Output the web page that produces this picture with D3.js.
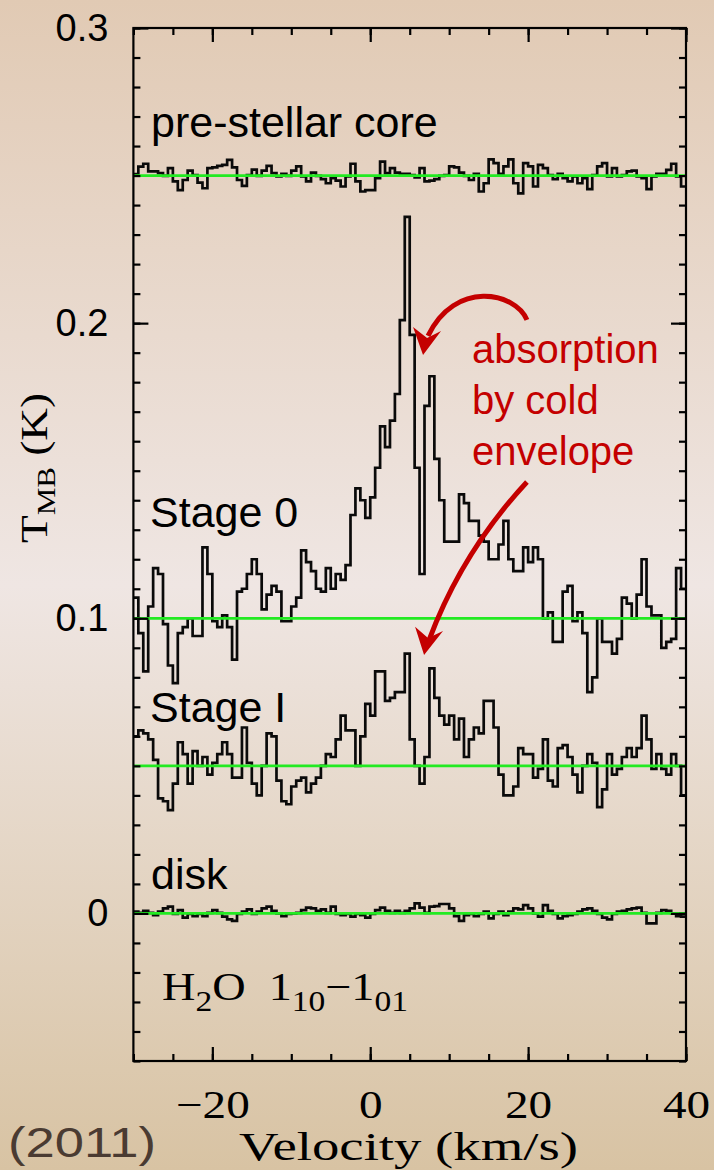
<!DOCTYPE html>
<html>
<head>
<meta charset="utf-8">
<script src="https://cdn.jsdelivr.net/npm/d3@7"></script>
<style>
  html, body { margin: 0; padding: 0; }
  body { width: 714px; height: 1170px; overflow: hidden; }
  svg { display: block; }
</style>
</head>
<body>
<svg id="chart"></svg>
<script>
// H2O 1_10-1_01 spectra, step plot on a regular channel grid (km/s)
const channelStart = -30;
const channelWidth = 0.625;

const seriesNames = ["pre-stellar core", "Stage 0", "Stage I", "disk"];
const baselines = [0.25, 0.1, 0.05, 0];

const prestellar = [
  0.2505, 0.2530, 0.2540, 0.2514, 0.2514, 0.2508, 0.2499, 0.2525, 0.2480, 0.2451,
  0.2485, 0.2517, 0.2502, 0.2476, 0.2457, 0.2525, 0.2528, 0.2533, 0.2536, 0.2553,
  0.2528, 0.2485, 0.2465, 0.2502, 0.2520, 0.2499, 0.2517, 0.2533, 0.2508, 0.2497,
  0.2506, 0.2499, 0.2517, 0.2531, 0.2497, 0.2480, 0.2510, 0.2499, 0.2488, 0.2474,
  0.2491, 0.2483, 0.2463, 0.2497, 0.2540, 0.2480, 0.2446, 0.2451, 0.2451, 0.2491,
  0.2547, 0.2508, 0.2525, 0.2510, 0.2506, 0.2506, 0.2502, 0.2494, 0.2525, 0.2480,
  0.2483, 0.2488, 0.2499, 0.2502, 0.2531, 0.2528, 0.2510, 0.2499, 0.2485, 0.2506,
  0.2446, 0.2474, 0.2555, 0.2542, 0.2506, 0.2531, 0.2555, 0.2474, 0.2440, 0.2542,
  0.2531, 0.2463, 0.2536, 0.2525, 0.2502, 0.2488, 0.2506, 0.2491, 0.2480, 0.2497,
  0.2474, 0.2491, 0.2454, 0.2502, 0.2531, 0.2542, 0.2497, 0.2525, 0.2497, 0.2502,
  0.2514, 0.2517, 0.2497, 0.2491, 0.2454, 0.2497, 0.2506, 0.2506, 0.2519, 0.2540,
  0.2497, 0.2463
];

const stage0 = [
  0.107, 0.095, 0.082, 0.104, 0.117, 0.115, 0.098, 0.084, 0.078, 0.095,
  0.097, 0.100, 0.094, 0.094, 0.124, 0.115, 0.099, 0.097, 0.101, 0.097,
  0.086, 0.109, 0.110, 0.115, 0.120, 0.115, 0.103, 0.108, 0.111, 0.109,
  0.099, 0.099, 0.104, 0.107, 0.123, 0.119, 0.116, 0.110, 0.109, 0.117,
  0.110, 0.115, 0.113, 0.118, 0.135, 0.144, 0.140, 0.134, 0.141, 0.151,
  0.165, 0.158, 0.167, 0.176, 0.201, 0.236, 0.196, 0.151, 0.115, 0.172,
  0.182, 0.154, 0.140, 0.126, 0.126, 0.126, 0.142, 0.139, 0.133, 0.133,
  0.128, 0.126, 0.120, 0.120, 0.125, 0.133, 0.120, 0.116, 0.116, 0.124,
  0.119, 0.124, 0.120, 0.100, 0.102, 0.092, 0.092, 0.109, 0.111, 0.099,
  0.102, 0.095, 0.075, 0.080, 0.100, 0.092, 0.092, 0.088, 0.093, 0.107,
  0.105, 0.100, 0.108, 0.120, 0.104, 0.101, 0.101, 0.090, 0.092, 0.093,
  0.117, 0.110
];

const stage1 = [
  0.060, 0.062, 0.061, 0.059, 0.052, 0.039, 0.038, 0.035, 0.044, 0.058,
  0.054, 0.044, 0.055, 0.050, 0.053, 0.047, 0.051, 0.054, 0.058, 0.054,
  0.046, 0.046, 0.063, 0.051, 0.044, 0.040, 0.050, 0.061, 0.060, 0.045,
  0.038, 0.037, 0.043, 0.045, 0.046, 0.041, 0.044, 0.046, 0.050, 0.054,
  0.053, 0.059, 0.067, 0.062, 0.062, 0.050, 0.060, 0.071, 0.067, 0.082,
  0.082, 0.072, 0.073, 0.075, 0.075, 0.088, 0.059, 0.050, 0.044, 0.053,
  0.083, 0.073, 0.067, 0.064, 0.067, 0.059, 0.066, 0.053, 0.059, 0.063,
  0.061, 0.072, 0.072, 0.063, 0.047, 0.040, 0.040, 0.043, 0.056, 0.054,
  0.054, 0.046, 0.049, 0.059, 0.045, 0.043, 0.056, 0.057, 0.053, 0.047,
  0.041, 0.050, 0.054, 0.051, 0.036, 0.042, 0.054, 0.047, 0.049, 0.053,
  0.056, 0.053, 0.056, 0.067, 0.059, 0.049, 0.054, 0.049, 0.047, 0.054,
  0.050, 0.040
];

const disk = [
  0.0006, 0.0002, 0.0009, 0.0002, -0.0006, 0.0006, 0.0017, 0.0023, -0.0002, 0.0011,
  -0.0014, -0.0002, -0.0009, -0.0002, -0.0009, 0.0002, 0.0011, 0.0002, -0.0011, -0.0020,
  -0.0025, -0.0002, 0.0006, 0.0014, -0.0002, 0.0006, 0.0017, 0.0023, 0.0009, 0.0000,
  -0.0009, -0.0002, 0.0000, 0.0002, 0.0011, 0.0020, 0.0017, 0.0009, 0.0014, 0.0002,
  0.0023, -0.0002, -0.0006, -0.0002, -0.0011, -0.0002, -0.0006, -0.0014, -0.0002, 0.0011,
  0.0020, 0.0009, 0.0002, 0.0009, 0.0002, 0.0009, 0.0017, 0.0034, 0.0020, 0.0002,
  0.0023, 0.0025, 0.0032, 0.0032, 0.0017, -0.0009, -0.0025, -0.0006, -0.0002, -0.0009,
  -0.0002, 0.0006, -0.0017, -0.0002, 0.0006, -0.0006, 0.0006, 0.0017, 0.0014, 0.0028,
  0.0017, 0.0000, -0.0011, 0.0028, 0.0009, -0.0002, -0.0017, -0.0009, -0.0006, -0.0002,
  0.0006, 0.0014, 0.0017, 0.0009, -0.0002, -0.0014, -0.0020, -0.0002, 0.0006, 0.0009,
  0.0014, 0.0017, 0.0020, 0.0002, -0.0034, -0.0034, 0.0002, 0.0011, 0.0009, 0.0000,
  -0.0009, -0.0011
];

// axis ticks
const xMajorTicks = [-20, 0, 20, 40];
const yMajorTicks = [0, 0.1, 0.2, 0.3];
const yTickLabels = ["0", "0.1", "0.2", "0.3"];

// annotation arrows, in data units (velocity, T)
const arrow1Curve = [[19.85, 0.2011], [18.34, 0.2106], [10.74, 0.2147], [7.32, 0.1957]];
const arrow1Head = [[6.69, 0.1892], [5.42, 0.1987], [7.20, 0.1950], [8.97, 0.1973]];
const arrow2Curve = [[19.85, 0.1462], [11.6, 0.1224], [7.45, 0.0926]];
const arrow2Head = [[6.82, 0.0876], [5.68, 0.0971], [7.32, 0.0933], [9.22, 0.0957]];
const annotationLines = ["absorption", "by cold", "envelope"];

const W = 714, H = 1170;
const svg = d3.select("#chart").attr("width", W).attr("height", H);

// background gradient
const defs = svg.append("defs");
const grad = defs.append("linearGradient").attr("id", "bg")
  .attr("x1", 0).attr("y1", 0).attr("x2", 0).attr("y2", 1);
grad.append("stop").attr("offset", "0%").attr("stop-color", "#e1cab4");
grad.append("stop").attr("offset", "50%").attr("stop-color", "#efe6e3");
grad.append("stop").attr("offset", "100%").attr("stop-color", "#d8c3a3");
svg.append("rect").attr("width", W).attr("height", H).attr("fill", "url(#bg)");

const x = d3.scaleLinear().domain([-30, 40]).range([133.4, 686]);
const y = d3.scaleLinear().domain([-0.05, 0.3]).range([1061, 28]);

const serif = "'Liberation Serif', 'DejaVu Serif', serif";
const sans = "'Liberation Sans', Arial, sans-serif";

// spectra as histograms
function stepPoints(values) {
  const pts = values.map((v, i) => [channelStart + i * channelWidth, v]);
  pts.push([channelStart + values.length * channelWidth, values[values.length - 1]]);
  return pts;
}
const stepLine = d3.line()
  .x(d => x(d[0]))
  .y(d => y(d[1]))
  .curve(d3.curveStepAfter);

const spectra = [prestellar, stage0, stage1, disk];
svg.append("g").selectAll("path")
  .data(spectra)
  .join("path")
  .attr("d", d => stepLine(stepPoints(d)))
  .attr("fill", "none")
  .attr("stroke", "#0a0a0a")
  .attr("stroke-width", 2.7)
  .attr("stroke-linejoin", "miter");

// green baselines
svg.append("g").selectAll("line")
  .data(baselines)
  .join("line")
  .attr("x1", x(-30)).attr("x2", x(40))
  .attr("y1", d => y(d)).attr("y2", d => y(d))
  .attr("stroke", "#22ea22")
  .attr("stroke-width", 2.8);

// frame
svg.append("rect")
  .attr("x", x(-30)).attr("y", y(0.3))
  .attr("width", x(40) - x(-30)).attr("height", y(-0.05) - y(0.3))
  .attr("fill", "none").attr("stroke", "#000").attr("stroke-width", 2.2);

// ticks (inside, all four sides)
const xMinor = d3.range(-30, 40.01, 5);
const yMinor = d3.range(-0.05, 0.3001, 0.01);

function styleAxis(g) {
  g.select(".domain").remove();
  g.selectAll("line").attr("stroke", "#000").attr("stroke-width", 2.2);
}

svg.append("g").attr("transform", `translate(0,${y(-0.05)})`)
  .call(d3.axisBottom(x).tickValues(xMinor).tickSize(-7).tickFormat(""))
  .call(styleAxis);
svg.append("g").attr("transform", `translate(0,${y(0.3)})`)
  .call(d3.axisTop(x).tickValues(xMinor).tickSize(-7).tickFormat(""))
  .call(styleAxis);
svg.append("g").attr("transform", `translate(${x(-30)},0)`)
  .call(d3.axisLeft(y).tickValues(yMinor).tickSize(-7).tickFormat(""))
  .call(styleAxis);
svg.append("g").attr("transform", `translate(${x(40)},0)`)
  .call(d3.axisRight(y).tickValues(yMinor).tickSize(-7).tickFormat(""))
  .call(styleAxis);

// major ticks with labels
const xAxis = svg.append("g").attr("transform", `translate(0,${y(-0.05)})`)
  .call(d3.axisBottom(x).tickValues(xMajorTicks).tickSize(-14).tickPadding(29))
  .call(styleAxis);
xAxis.selectAll("text")
  .attr("font-family", serif).attr("font-size", 40).attr("fill", "#000")
  .attr("transform", "scale(1.18,1)");

svg.append("g").attr("transform", `translate(0,${y(0.3)})`)
  .call(d3.axisTop(x).tickValues(xMajorTicks).tickSize(-14).tickFormat(""))
  .call(styleAxis);

const yAxis = svg.append("g").attr("transform", `translate(${x(-30)},0)`)
  .call(d3.axisLeft(y).tickValues(yMajorTicks).tickSize(-15).tickPadding(25)
    .tickFormat((d, i) => yTickLabels[i]))
  .call(styleAxis);
yAxis.selectAll("text")
  .attr("font-family", sans).attr("font-size", 38).attr("fill", "#000");

svg.append("g").attr("transform", `translate(${x(40)},0)`)
  .call(d3.axisRight(y).tickValues(yMajorTicks).tickSize(-15).tickFormat(""))
  .call(styleAxis);

// axis titles
svg.append("text")
  .attr("x", 408.5).attr("y", 1160)
  .attr("text-anchor", "middle")
  .attr("font-family", serif).attr("font-size", 40)
  .attr("textLength", 339).attr("lengthAdjust", "spacingAndGlyphs")
  .text("Velocity (km/s)");

const yTitle = svg.append("text")
  .attr("transform", "translate(47,468) rotate(-90)")
  .attr("text-anchor", "middle")
  .attr("font-family", serif).attr("font-size", 38)
  .attr("textLength", 150).attr("lengthAdjust", "spacingAndGlyphs");
yTitle.append("tspan").text("T");
yTitle.append("tspan").attr("font-size", 26).attr("dy", 8).text("MB");
yTitle.append("tspan").attr("dy", -8).text(" (K)");

// transition label
const lineLabel = svg.append("text")
  .attr("x", 162).attr("y", 1000)
  .attr("font-family", serif).attr("font-size", 40)
  .attr("textLength", 246).attr("lengthAdjust", "spacingAndGlyphs");
lineLabel.append("tspan").text("H");
lineLabel.append("tspan").attr("font-size", 29).attr("dy", 11).text("2");
lineLabel.append("tspan").attr("dy", -11).text("O\u00a0\u00a01");
lineLabel.append("tspan").attr("font-size", 29).attr("dy", 11).text("10");
lineLabel.append("tspan").attr("dy", -11).text("\u22121");
lineLabel.append("tspan").attr("font-size", 29).attr("dy", 11).text("01");

// series labels
const labelPos = [[151, 137], [150, 527], [150, 722], [151, 889]];
svg.append("g").selectAll("text")
  .data(seriesNames)
  .join("text")
  .attr("x", (d, i) => labelPos[i][0])
  .attr("y", (d, i) => labelPos[i][1])
  .attr("font-family", sans).attr("font-size", 43).attr("fill", "#000")
  .text(d => d);

// red annotation
const red = "#c40000";
svg.append("g").selectAll("text")
  .data(annotationLines)
  .join("text")
  .attr("x", 472)
  .attr("y", (d, i) => 363 + i * 51)
  .attr("font-family", sans).attr("font-size", 40).attr("fill", red)
  .text(d => d);

const p1 = d3.path();
p1.moveTo(x(arrow1Curve[0][0]), y(arrow1Curve[0][1]));
p1.bezierCurveTo(
  x(arrow1Curve[1][0]), y(arrow1Curve[1][1]),
  x(arrow1Curve[2][0]), y(arrow1Curve[2][1]),
  x(arrow1Curve[3][0]), y(arrow1Curve[3][1]));
const p2 = d3.path();
p2.moveTo(x(arrow2Curve[0][0]), y(arrow2Curve[0][1]));
p2.quadraticCurveTo(
  x(arrow2Curve[1][0]), y(arrow2Curve[1][1]),
  x(arrow2Curve[2][0]), y(arrow2Curve[2][1]));

svg.append("g").selectAll("path")
  .data([p1.toString(), p2.toString()])
  .join("path")
  .attr("d", d => d)
  .attr("fill", "none").attr("stroke", red).attr("stroke-width", 5);

const headLine = d3.line().x(d => x(d[0])).y(d => y(d[1]));
svg.append("g").selectAll("path")
  .data([arrow1Head, arrow2Head])
  .join("path")
  .attr("d", d => headLine(d) + "Z")
  .attr("fill", red);

// source year
svg.append("text")
  .attr("x", 8).attr("y", 1157)
  .attr("font-family", sans).attr("font-size", 42).attr("fill", "#4a3b32")
  .attr("textLength", 148).attr("lengthAdjust", "spacingAndGlyphs")
  .text("(2011)");
</script>
</body>
</html>
